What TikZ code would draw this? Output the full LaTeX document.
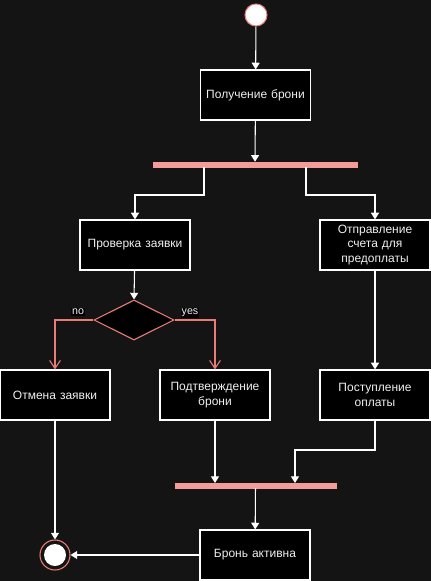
\documentclass[tikz,border=0pt]{standalone}
\usepackage{fontspec}
\setmainfont{Liberation Sans}
\usetikzlibrary{shapes.geometric,arrows.meta}
\definecolor{bg}{HTML}{141414}
\definecolor{barpink}{HTML}{F49C9A}
\definecolor{redline}{HTML}{EA7B77}
\definecolor{txt}{HTML}{F0F0F0}
\begin{document}
\begin{tikzpicture}[x=0.75pt,y=-0.75pt,
  act/.style={draw=white,fill=black,line width=0.9pt,minimum width=110*0.75pt,minimum height=50*0.75pt,
    text width=100*0.75pt,align=center,text=txt,font=\fontsize{9}{11}\selectfont,inner sep=0pt},
  bar/.style={fill=barpink,draw=barpink,minimum height=5*0.75pt,inner sep=0pt},
  flow/.style={draw=white,line width=0.8pt,-{Triangle[width=6pt,length=5pt]}},
  redflow/.style={draw=redline,line width=0.8pt,-{Straight Barb[width=8pt,length=6pt]}},
  lbl/.style={fill=black,text=txt,font=\fontsize{8}{9}\selectfont,inner sep=0.6pt}]
\useasboundingbox[fill=bg] (0,0) rectangle (431,581);
\node[circle,fill=white,draw=redline,line width=0.8pt,minimum size=22*0.75pt,inner sep=0pt] (start) at (256,15) {};
\node[act] (recv) at (255.5,95) {Получение брони};
\node[bar,minimum width=204*0.75pt] (fork) at (255,164.5) {};
\node[act] (check) at (135,245) {Проверка заявки};
\node[act] (invoice) at (375,245) {Отправление счета для предоплаты};
\node[diamond,draw=redline,fill=black,line width=0.8pt,minimum width=80*0.75pt,minimum height=40*0.75pt,aspect=2,inner sep=0pt] (dec) at (134,320) {};
\node[act] (cancel) at (55,395) {Отмена заявки};
\node[act] (confirm) at (215,395) {Подтверждение брони};
\node[act] (paid) at (375,395) {Поступление оплаты};
\node[bar,minimum width=161*0.75pt] (join) at (255.5,485.5) {};
\node[act] (active) at (255,555) {Бронь активна};
\node[circle,draw=redline,line width=0.8pt,minimum size=30*0.75pt,inner sep=0pt] (end) at (55,555) {};
\node[circle,fill=white,minimum size=22*0.75pt,inner sep=0pt] (endin) at (55,555) {};
\coordinate (f1) at (204,167);
\coordinate (f2) at (306,167);
\coordinate (j1) at (295,483);
\draw[flow] (start) -- (recv);
\draw[flow] (recv) -- (fork);
\draw[flow] (f1) -- (204,195) -| (check.north);
\draw[flow] (f2) -- (306,195) -| (invoice.north);
\draw[flow] (check) -- (dec.north);
\draw[redflow] (dec.west) -| (cancel.north);
\draw[redflow] (dec.east) -| (confirm.north);
\node[lbl] (no) at (78,312) {no};
\node[lbl] (yes) at (190,313) {yes};
\draw[flow] (invoice) -- (paid);
\draw[flow] (confirm.south) -- (215,483);
\draw[flow] (paid.south) -- (375,450) -| (j1);
\draw[flow] (join) -- (active);
\draw[flow] (active) -- (end);
\draw[flow] (cancel) -- (end);
\end{tikzpicture}
\end{document}
